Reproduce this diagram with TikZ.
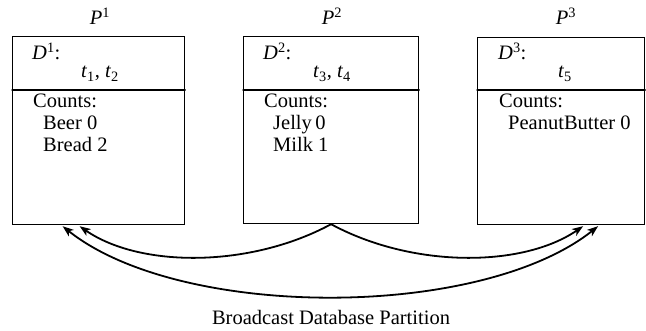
\documentclass[tikz,border=0pt]{standalone}
\usepackage{amsmath}
\usepackage{fontspec}
\setmainfont{Liberation Serif}
\usepackage{tikz}
\usetikzlibrary{arrows.meta, positioning}

\newcommand{\pvar}[2]{\textit{#1}\textsuperscript{#2}}
\newcommand{\tvar}[1]{\textit{t}\textsubscript{#1}}

\tikzset{
    partbox/.style={draw, line width=1.2pt, anchor=north west, inner sep=0pt},
    lbl/.style={font=\fontsize{20.5}{24}\selectfont, inner sep=0pt, anchor=base west},
    ttl/.style={font=\fontsize{20.5}{24}\selectfont, inner sep=0pt, anchor=base},
    bcast/.style={line width=1.8pt, -{Stealth[length=11pt, width=8pt, inset=3pt]}},
    bcastboth/.style={line width=1.8pt, {Stealth[length=11pt, width=8pt, inset=3pt]}-{Stealth[length=11pt, width=8pt, inset=3pt]}},
}

\begin{document}
\begin{tikzpicture}[x=1pt, y=-1pt, line cap=round]
    \useasboundingbox (0,0) rectangle (646,331);

    % Partition boxes
    \node[partbox, minimum width=172pt, minimum height=188pt] (box1) at (12,36) {};
    \node[partbox, minimum width=175pt, minimum height=187pt] (box2) at (243,36) {};
    \node[partbox, minimum width=167pt, minimum height=187pt] (box3) at (477,37) {};

    % Dividers
    \draw[line width=1.2pt] ([yshift=-54pt]box1.north west) -- ([yshift=-54pt]box1.north east);
    \draw[line width=1.2pt] ([yshift=-54pt]box2.north west) -- ([yshift=-54pt]box2.north east);
    \draw[line width=1.2pt] ([yshift=-53pt]box3.north west) -- ([yshift=-53pt]box3.north east);

    % Titles
    \node[ttl] (p1) at (100,25) {\pvar{P}{1}};
    \node[ttl] (p2) at (332,25) {\pvar{P}{2}};
    \node[ttl] (p3) at (566,25) {\pvar{P}{3}};

    % Partition P1
    \node[lbl] (d1) at (32,60) {\pvar{D}{1}:};
    \node[ttl] (tr1) at (100,78) {\tvar{1}, \tvar{2}};
    \node[lbl] (c1) at (33,108) {Counts:};
    \node[lbl] (beer) at (43,130) {Beer 0};
    \node[lbl] (bread) at (43,152) {Bread 2};

    % Partition P2
    \node[lbl] (d2) at (263,60) {\pvar{D}{2}:};
    \node[ttl] (tr2) at (332,78) {\tvar{3}, \tvar{4}};
    \node[lbl] (c2) at (264,108) {Counts:};
    \node[lbl] (jelly) at (273,130) {Jelly\,0};
    \node[lbl] (milk) at (273,152) {Milk 1};

    % Partition P3
    \node[lbl] (d3) at (498,60) {\pvar{D}{3}:};
    \node[ttl] (tr3) at (565,78) {\tvar{5}};
    \node[lbl] (c3) at (499,108) {Counts:};
    \node[lbl] (pb) at (508,130) {PeanutButter 0};

    % Broadcast arrows
    \coordinate (in1) at ([xshift=-19pt, yshift=-1pt]box1.south);
    \coordinate (out1) at ([xshift=-36pt, yshift=-1pt]box1.south);
    \coordinate (in3) at ([xshift=22pt, yshift=-1pt]box3.south);
    \coordinate (out3) at ([xshift=37pt, yshift=-1pt]box3.south);
    \draw[bcast] (box2.south) .. controls (250,268) and (140,268) .. (in1);
    \draw[bcast] (box2.south) .. controls (412,268) and (522,268) .. (in3);
    \draw[bcastboth] (out1) .. controls (180,320) and (480,320) .. (out3);

    \node[ttl] (cap) at (331,325) {Broadcast Database Partition};
\end{tikzpicture}
\end{document}
